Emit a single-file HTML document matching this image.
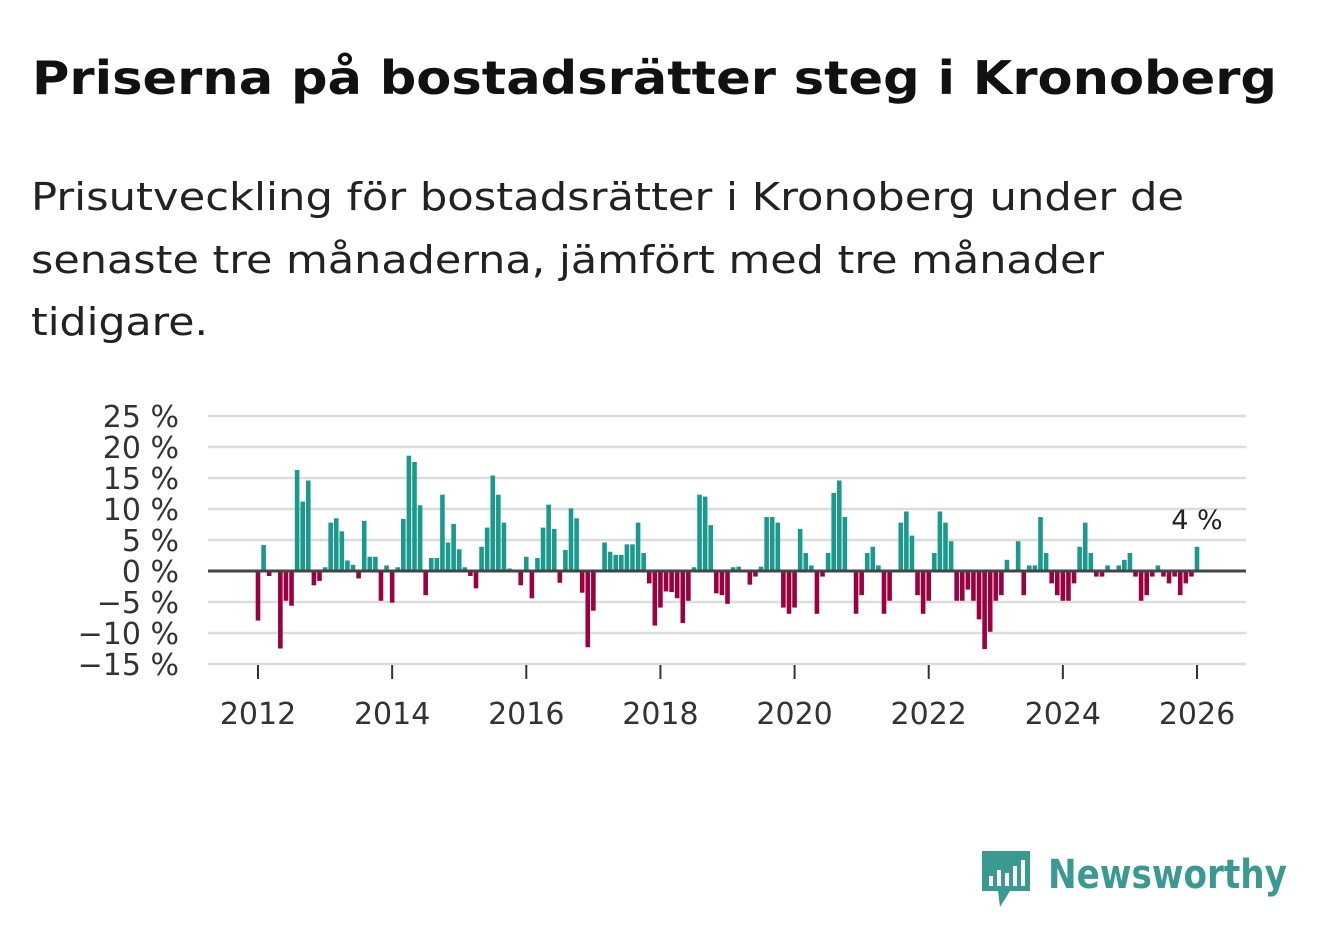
<!DOCTYPE html>
<html><head><meta charset="utf-8"><style>
html,body{margin:0;padding:0;background:#fff;}
svg{display:block;font-family:"DejaVu Sans","Liberation Sans",sans-serif;}
</style></head><body>
<svg id="chart" width="1322" height="939" viewBox="0 0 1322 939" xmlns="http://www.w3.org/2000/svg">
<text x="32" y="94" font-size="46" font-weight="bold" fill="#111" textLength="1245" lengthAdjust="spacingAndGlyphs">Priserna på bostadsrätter steg i Kronoberg</text>
<g font-size="38" fill="#222">
<text x="31" y="210" textLength="1153" lengthAdjust="spacingAndGlyphs">Prisutveckling för bostadsrätter i Kronoberg under de</text>
<text x="31" y="273" textLength="1073" lengthAdjust="spacingAndGlyphs">senaste tre månaderna, jämfört med tre månader</text>
<text x="31" y="335" textLength="177" lengthAdjust="spacingAndGlyphs">tidigare.</text>
</g>
<g id="grid"></g>
<g id="yticks"></g>
<g id="bars"></g>
<g id="xticks"></g>
<g>
<path d="M982 851 h48 v40 h-20 l-10 16 l-2 -16 h-16 z" fill="#3a9a92"/>
<rect x="989" y="876" width="4" height="10" fill="#fff"/>
<rect x="997" y="870" width="4" height="16" fill="#fff"/>
<rect x="1005" y="873" width="4" height="13" fill="#fff"/>
<rect x="1013" y="866" width="4" height="20" fill="#fff"/>
<rect x="1021" y="860" width="4" height="26" fill="#fff"/>
<text x="1048" y="888" font-size="40" font-weight="bold" fill="#3a9a92" textLength="239" lengthAdjust="spacingAndGlyphs">Newsworthy</text>
</g>
</svg>
<script>
const yTicks = [25,20,15,10,5,0,-5,-10,-15];
const yLabels = ["25 %","20 %","15 %","10 %","5 %","0 %","\u22125 %","\u221210 %","\u221215 %"];
const xYears = [2012,2014,2016,2018,2020,2022,2024,2026];
const startYear = 2012;
const values = [-8.0,4.2,-0.8,0,-12.5,-4.8,-5.6,16.3,11.2,14.6,-2.3,-1.6,0.6,7.8,8.5,6.4,1.7,1.0,-1.2,8.1,2.3,2.3,-4.8,0.9,-5.1,0.6,8.4,18.6,17.6,10.6,-3.9,2.1,2.1,12.3,4.6,7.6,3.5,0.6,-0.8,-2.8,3.9,7.0,15.4,12.3,7.8,0.4,0,-2.3,2.3,-4.4,2.1,7.0,10.7,6.8,-1.9,3.4,10.1,8.5,-3.5,-12.3,-6.4,0,4.6,3.1,2.6,2.6,4.3,4.3,7.8,2.9,-2.0,-8.8,-5.9,-3.3,-3.4,-4.4,-8.4,-4.8,0.6,12.3,12.0,7.4,-3.6,-3.9,-5.3,0.6,0.7,0,-2.2,-0.9,0.7,8.7,8.7,7.8,-5.9,-6.9,-5.9,6.8,2.9,0.9,-6.9,-0.9,2.9,12.6,14.6,8.7,0,-6.9,-3.9,2.9,3.9,0.9,-6.9,-4.8,0,7.8,9.6,5.7,-3.9,-6.9,-4.8,2.9,9.6,7.8,4.8,-4.8,-4.8,-3.0,-4.8,-7.8,-12.6,-9.8,-4.8,-3.9,1.8,0,4.8,-3.9,0.9,0.9,8.7,2.9,-2.0,-3.9,-4.8,-4.8,-2.0,3.9,7.8,2.9,-0.9,-0.9,0.9,0,0.9,1.8,2.9,-0.9,-4.8,-3.9,-0.9,0.9,-0.9,-2.0,-0.9,-3.9,-2.0,-0.9,3.9];
const lastLabel = "4 %";

const NS="http://www.w3.org/2000/svg";
const X0=208,X1=1246;
const y = v => 571 - v*6.2;
const xm = i => 258 + i*(939/168);
function mk(tag,attrs,parent){const e=document.createElementNS(NS,tag);for(const k in attrs)e.setAttribute(k,attrs[k]);parent.appendChild(e);return e;}
const grid=document.getElementById('grid'), yt=document.getElementById('yticks'), bars=document.getElementById('bars'), xt=document.getElementById('xticks');
yTicks.forEach((t,i)=>{
  if(t!==0){const l=mk('line',{x1:X0,x2:X1,y1:y(t),y2:y(t),stroke:'#dcdcdc','stroke-width':2.5},grid);
  
  }
  const tx=mk('text',{x:179,y:y(t)+11,'text-anchor':'end','font-size':30,fill:'#333'},yt);
  tx.textContent=yLabels[i];
  
  
});
values.forEach((v,i)=>{
  if(v===0)return;
  const cx=xm(i);
  const r=mk('rect',{x:cx-2.3,width:4.6,y:v>0?y(v):y(0),height:Math.abs(v)*6.2,fill:v>0?'#1a9a8c':'#9b0040'},bars);
  
  
});
const zl=mk('line',{x1:X0,x2:X1,y1:y(0),y2:y(0),stroke:'#444','stroke-width':3},bars);


const lv=values[values.length-1];
const lt=mk('text',{x:xm(values.length-1),y:y(Math.max(lv,0))-18,'text-anchor':'middle','font-size':27,fill:'#222'},bars);
lt.textContent=lastLabel;


xYears.forEach(yr=>{
  const cx=xm((yr-startYear)*12);
  const tk=mk('line',{x1:cx,x2:cx,y1:665,y2:679,stroke:'#333','stroke-width':2},xt);
  
  
  const tx=mk('text',{x:cx,y:724,'text-anchor':'middle','font-size':30,fill:'#333'},xt);
  tx.textContent=yr;
  
  
});
</script>
</body></html>
